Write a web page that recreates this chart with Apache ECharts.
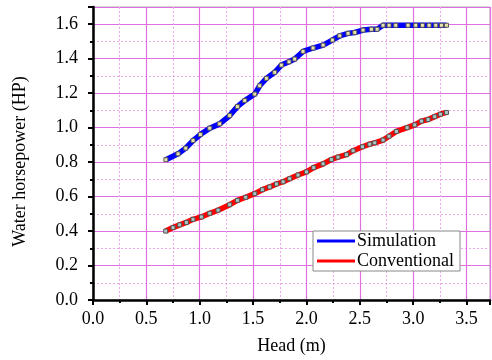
<!DOCTYPE html>
<html>
<head>
<meta charset="utf-8">
<script src="https://cdn.jsdelivr.net/npm/echarts@6/dist/echarts.min.js"></script>
<style>
  html, body { margin: 0; padding: 0; background: #fff; }
  #chart { width: 492px; height: 360px; }
</style>
</head>
<body>
<div id="chart"></div>
<script>
// head (m) / water horsepower (HP)
const simHead = [0.683, 0.797, 0.869, 0.937, 1.006, 1.094, 1.187, 1.281, 1.353, 1.422, 1.516, 1.562, 1.625, 1.703, 1.765, 1.837, 1.890, 1.968, 2.062, 2.156, 2.243, 2.312, 2.390, 2.453, 2.530, 2.609, 2.662, 2.718, 2.774, 2.837, 2.952, 3.024, 3.087, 3.149, 3.212, 3.265, 3.312]
const simHp = [0.814, 0.848, 0.881, 0.925, 0.960, 0.997, 1.022, 1.070, 1.122, 1.157, 1.195, 1.243, 1.286, 1.321, 1.363, 1.382, 1.398, 1.442, 1.462, 1.479, 1.508, 1.533, 1.547, 1.552, 1.566, 1.571, 1.571, 1.594, 1.594, 1.594, 1.594, 1.594, 1.594, 1.594, 1.594, 1.594, 1.594]

const convHead = [0.681, 0.750, 0.812, 0.875, 0.937, 1.016, 1.094, 1.172, 1.281, 1.353, 1.431, 1.516, 1.587, 1.656, 1.719, 1.781, 1.843, 1.921, 2.000, 2.068, 2.156, 2.234, 2.296, 2.375, 2.437, 2.525, 2.593, 2.640, 2.718, 2.774, 2.843, 2.943, 3.015, 3.078, 3.140, 3.202, 3.256, 3.312]
const convHp = [0.400, 0.420, 0.436, 0.450, 0.468, 0.482, 0.503, 0.521, 0.553, 0.578, 0.596, 0.617, 0.640, 0.656, 0.673, 0.686, 0.704, 0.725, 0.743, 0.768, 0.790, 0.815, 0.829, 0.843, 0.866, 0.889, 0.904, 0.912, 0.928, 0.950, 0.978, 1.000, 1.016, 1.038, 1.047, 1.064, 1.078, 1.088]

const font = 'Liberation Serif, Times New Roman, serif'

const baseAxis = {
  axisLine: { lineStyle: { color: '#000', width: 2.5 } },
  axisTick: { inside: false, length: 5, lineStyle: { color: '#000', width: 2 } },
  minorTick: { show: true, splitNumber: 2, length: 3, lineStyle: { color: '#000', width: 2 } },
  axisLabel: { color: '#000', fontFamily: font, fontSize: 18 },
  splitLine: { lineStyle: { color: '#e070e0', width: 1.2 } },
  minorSplitLine: { show: true, lineStyle: { color: '#eba8eb', width: 1, type: [2, 2] } },
  nameLocation: 'middle',
}

const pairs = (xs, ys) => xs.map((x, i) => [x, ys[i]])

const chart = echarts.init(document.getElementById('chart'))
chart.setOption({
  animation: false,
  grid: { left: 93, right: 2, top: 7, bottom: 58, show: true, borderColor: '#aaa', borderWidth: 1 },
  legend: {
    left: 313, top: 231,
    orient: 'vertical',
    itemGap: 2,
    itemWidth: 38, itemHeight: 3,
    padding: [1, 6, 1, 4],
    backgroundColor: '#fff',
    borderColor: '#888', borderWidth: 1,
    textStyle: { color: '#000', fontFamily: font, fontSize: 18, lineHeight: 18, padding: [0, 0, 0, -3] },
    data: [
      { name: 'Simulation', icon: 'rect', itemStyle: { color: '#0000ff', borderWidth: 0 } },
      { name: 'Conventional', icon: 'rect', itemStyle: { color: '#ff0000', borderWidth: 0 } },
    ],
  },
  xAxis: {
    type: 'value', min: 0, max: 3.72, interval: 0.5,
    name: 'Head (m)', nameGap: 37,
    nameTextStyle: { color: '#000', fontFamily: font, fontSize: 18 },
    ...baseAxis,
    axisLabel: { ...baseAxis.axisLabel, margin: 10, showMaxLabel: false, formatter: (v) => v.toFixed(1) },
  },
  yAxis: {
    type: 'value', min: 0, max: 1.7, interval: 0.2,
    name: 'Water horsepower (HP)', nameGap: 64,
    nameTextStyle: { color: '#000', fontFamily: font, fontSize: 18, padding: [0, 16, 0, 0] },
    ...baseAxis,
    axisLabel: { ...baseAxis.axisLabel, margin: 15, showMaxLabel: false, formatter: (v) => v.toFixed(1) },
  },
  series: [
    {
      name: 'Simulation', type: 'line', data: pairs(simHead, simHp),
      symbol: 'rect', symbolSize: 4,
      lineStyle: { color: '#0000ff', width: 5.5 },
      itemStyle: { color: '#e8e4b0', borderColor: '#555', borderWidth: 1 },
    },
    {
      name: 'Conventional', type: 'line', data: pairs(convHead, convHp),
      symbol: 'rect', symbolSize: 4,
      lineStyle: { color: '#ff0000', width: 5.5 },
      itemStyle: { color: '#a8c8c8', borderColor: '#555', borderWidth: 1 },
    },
  ],
})
</script>
</body>
</html>
